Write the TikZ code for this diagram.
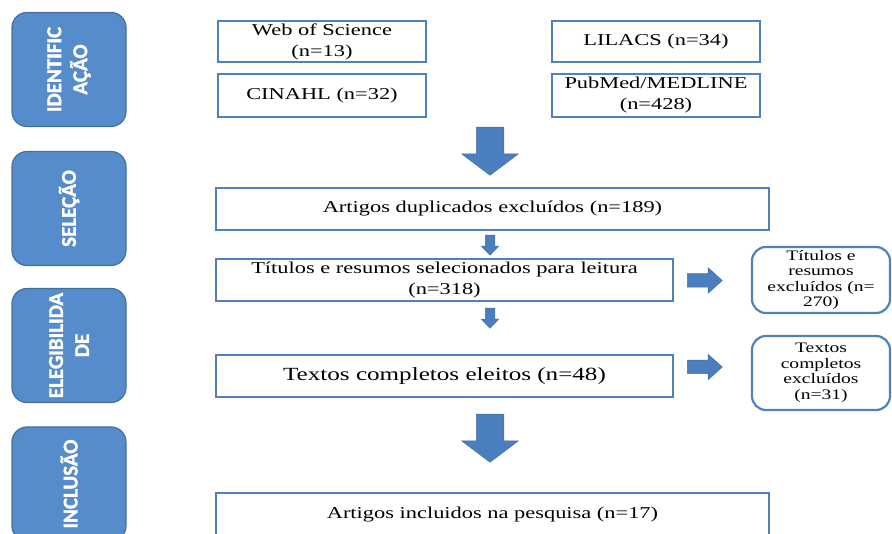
\documentclass[tikz,border=0pt]{standalone}
\usepackage{fontspec}
\setmainfont[FakeStretch=1.35]{Liberation Serif}
\newfontfamily\stagefont[FakeBold=1.5]{Carlito Bold}
\usetikzlibrary{shapes.arrows}
\definecolor{boxblue}{RGB}{79,129,189}
\definecolor{stagefill}{RGB}{86,140,203}
\definecolor{stageline}{RGB}{65,113,156}
\definecolor{arrowfill}{RGB}{74,126,190}
\begin{document}
\begin{tikzpicture}[x=1pt, y=-1pt,
    stage/.style={rotate=90, draw=stageline, fill=stagefill, line width=1.2pt,
        rounded corners=15pt, minimum width=114pt, minimum height=114pt,
        inner sep=0pt, align=center, text=white,
        font=\stagefont\fontsize{21}{26}\selectfont},
    base/.style={draw=boxblue, line width=2.2pt, inner sep=0pt, align=center,
        font=\fontsize{16.6}{21}\selectfont},
    excl/.style={base, rounded corners=14pt, minimum width=138pt,
        font=\fontsize{14.5}{15.5}\selectfont},
    bigarrow/.style={single arrow, fill=arrowfill, draw=stageline, line width=0.5pt,
        inner xsep=0pt, inner ysep=13.5pt, minimum width=56pt, minimum height=48pt,
        single arrow head extend=14.5pt, single arrow tip angle=106,
        anchor=tail, rotate=-90},
    smallarrow/.style={bigarrow, inner ysep=4.5pt, minimum width=17pt,
        minimum height=20pt, single arrow head extend=4pt, single arrow tip angle=87},
    sidearrow/.style={bigarrow, inner ysep=6.5pt, minimum width=25pt,
        minimum height=35pt, single arrow head extend=6pt, single arrow tip angle=84,
        rotate=90}]
    \useasboundingbox (0,0) rectangle (892,534);

    \node[stage] (S1) at (69,69.5) {IDENTIFIC\\AÇÃO};
    \node[stage] (S2) at (69,208.5) {SELEÇÃO};
    \node[stage] (S3) at (69,345.5) {ELEGIBILIDA\\DE};
    \node[stage] (S4) at (69,484) {INCLUSÃO};

    \node[base, minimum width=208pt, minimum height=41pt] (W) at (322,41.5) {Web of Science\\(n=13)};
    \node[base, minimum width=208pt, minimum height=43pt] (C) at (322,95.5) {CINAHL (n=32)};
    \node[base, minimum width=208pt, minimum height=41pt] (L) at (656,41.5) {LILACS (n=34)};
    \node[base, minimum width=208pt, minimum height=43pt] (P) at (656,95.5) {PubMed/MEDLINE\\(n=428)};

    \node[base, minimum width=553pt, minimum height=42pt] (D) at (492.5,209) {Artigos duplicados excluídos (n=189)};
    \node[base, minimum width=457pt, minimum height=42pt] (T) at (444.5,280) {Títulos e resumos selecionados para leitura\\(n=318)};
    \node[base, minimum width=457pt, minimum height=42pt, font=\fontsize{18.6}{21}\selectfont] (E) at (444.5,376) {Textos completos eleitos (n=48)};
    \node[base, minimum width=553pt, minimum height=44pt] (I) at (492.5,515) {Artigos incluidos na pesquisa (n=17)};

    \node[excl, minimum height=66pt] (R) at (821,280) {Títulos e\\resumos\\excluídos (n=\\270)};
    \node[excl, minimum height=74pt] (X) at (821,373) {Textos\\completos\\excluídos\\(n=31)};

    \node[bigarrow] (A1) at (490,127) {};
    \node[smallarrow] (A2) at (490,235) {};
    \node[smallarrow] (A3) at (490,308) {};
    \node[bigarrow] (A4) at (490,414) {};
    \node[sidearrow] (A5) at (687,280.5) {};
    \node[sidearrow] (A6) at (687,367) {};
\end{tikzpicture}
\end{document}
